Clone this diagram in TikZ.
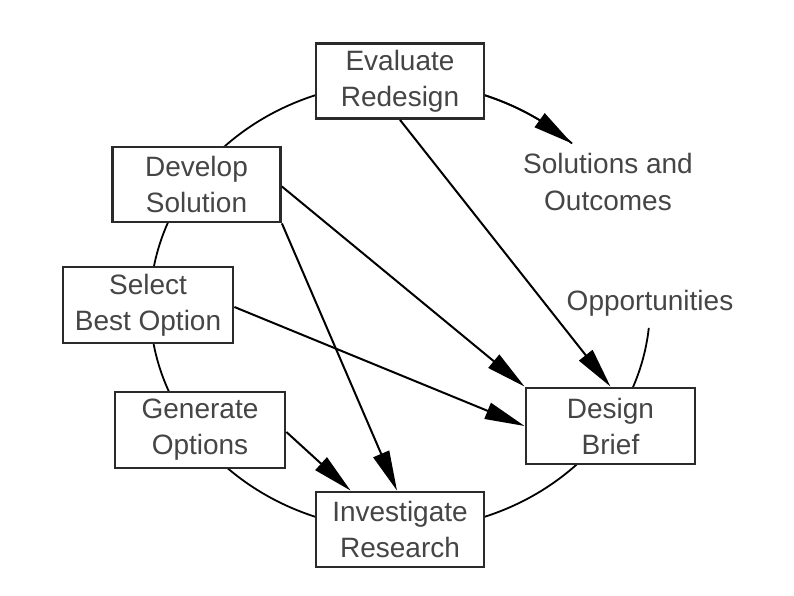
\documentclass[tikz,border=0pt]{standalone}
\usepackage{fontspec}
\setmainfont{Liberation Sans}
\usetikzlibrary{arrows.meta,calc,bending}
\definecolor{txt}{HTML}{454545}
\definecolor{bord}{HTML}{2A2A2A}
\tikzset{
  box/.style={draw=bord,line width=2.8pt,fill=white,rectangle,minimum width=168pt,minimum height=75pt,
    inner sep=0pt,align=center,text=txt,font=\fontsize{28}{36}\selectfont},
  lbl/.style={align=center,text=txt,font=\fontsize{28}{37}\selectfont},
  tip/.style={-{Triangle[length=40pt,width=17pt]}},
  conn/.style={line width=2pt,tip},
  ring/.style={line width=1.8pt},
}
\begin{document}
\begin{tikzpicture}[x=1pt,y=1pt]
\useasboundingbox (0,0) rectangle (794,595);
% ring
\draw[ring] (400,289) ++(46.5:250 and 224) arc[start angle=46.5,end angle=354.4,x radius=250,y radius=224];
\draw[ring,tip] (400,289) ++(78:250 and 224) arc[start angle=78,end angle=46.5,x radius=250,y radius=224];
% boxes
\node[box] (eval) at (400,514) {Evaluate\\Redesign};
\node[box] (dev) at (196.5,410.5) {Develop\\Solution};
\node[box,minimum width=170pt,minimum height=76pt] (sel) at (148,290) {Select\\Best Option};
\node[box,minimum width=170pt,minimum height=76pt] (gen) at (200,165) {Generate\\Options};
\node[box] (inv) at (400,65.5) {Investigate\\Research};
\node[box,minimum width=169pt,minimum height=76pt] (db) at (610.5,169) {Design\\Brief};
% labels
\node[lbl] (sol) at (608,413) {Solutions and\\Outcomes};
\node[lbl] (opp) at (650,292) {Opportunities};
% connectors
\draw[conn] (eval.south) -- (db.north);
\draw[conn] ([yshift=-2pt]dev.east) -- (db.north west);
\draw[conn] ([yshift=-2pt]sel.east) -- (db.west);
\draw[conn] (dev.south east) -- ([xshift=-3pt]inv.north);
\draw[conn] ([yshift=-2pt]gen.east) -- ([xshift=36pt]inv.north west);
\end{tikzpicture}
\end{document}
